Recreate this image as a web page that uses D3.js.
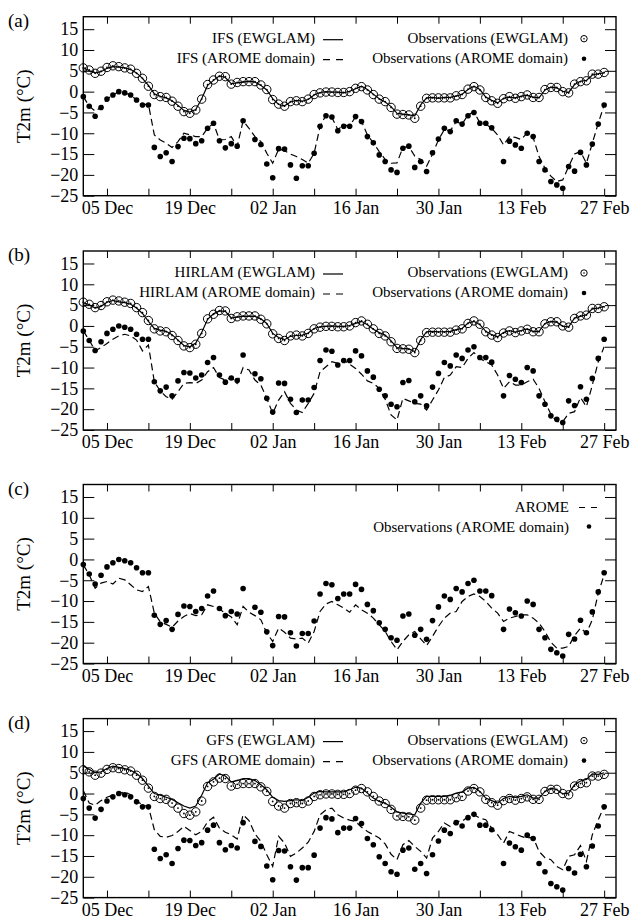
<!DOCTYPE html>
<html><head><meta charset="utf-8">
<script src="https://cdn.jsdelivr.net/npm/d3@7"></script>
<style>
body{margin:0;background:#fff}
text{font-family:"Liberation Serif","Times New Roman",serif;fill:#000}
</style>
</head><body>
<svg id="chart" width="632" height="920"></svg>
<script>
// ---------- DATA (daily values, 1 Dec 2010 .. 27 Feb 2011) ----------
const startDate = new Date(2010, 11, 1);
const endDate = new Date(2011, 2, 1);
const yTicks = [-25, -20, -15, -10, -5, 0, 5, 10, 15];
const xTickDates = ["2010-12-05","2010-12-12","2010-12-19","2010-12-26","2011-01-02","2011-01-09","2011-01-16","2011-01-23","2011-01-30","2011-02-06","2011-02-13","2011-02-20","2011-02-27"];
const xTickLabels = ["05 Dec","19 Dec","02 Jan","16 Jan","30 Jan","13 Feb","27 Feb"];
const panelLabels = ["(a)","(b)","(c)","(d)"];

const obsEWGLAM = [5.7,5.2,4.4,4.9,5.8,6.2,6.0,5.7,5.4,4.4, 3.2,1.3,-0.7,-1.2,-1.4,-2.3,-3.5,-4.8,-5.2,-4.4,
  -1.8,1.7,2.8,3.7,3.6,1.8,2.2,2.4,2.4,2.4, 1.6,0.5,-1.9,-3.0,-3.5,-2.4,-2.2,-2.4,-1.8,-0.7,
  -0.3,-0.1,-0.1,-0.2,-0.2,0.0,0.8,1.2,0.4,-0.7, -1.8,-2.4,-3.8,-5.4,-5.5,-5.6,-6.4,-3.5,-1.6,-1.5,
  -1.5,-1.5,-1.5,-1.0,-0.7,0.6,1.2,0.4,-1.4,-2.2, -2.8,-1.7,-1.2,-1.6,-1.2,-0.8,-1.4,-1.4,0.5,1.0,
  1.0,0.0,-0.3,1.8,2.4,2.6,4.2,4.2,4.6];
const obsAROME = [-1.2,-3.5,-5.9,-3.8,-1.8,-0.8,0.0,-0.3,-0.8,-2.0, -3.2,-3.2,-13.4,-15.6,-14.7,-16.8,-13.2,-11.2,-11.3,-12.5,
  -11.8,-8.8,-7.6,-11.8,-13.5,-12.5,-13.1,-7.0,null,-11.5, -12.7,-17.4,-20.7,-13.7,-13.8,-17.6,-20.8,-17.8,-17.8,-14.8,
  -8.3,-5.8,-6.1,-9.4,-8.3,-8.3,-6.0,-7.2,-10.8,-12.3, -15.2,-16.8,-18.8,-19.4,-13.6,-13.1,-18.2,-16.8,-19.2,-14.7,
  -11.4,-8.8,-9.6,-7.0,-7.8,-5.8,-5.0,-7.6,-7.6,-8.7, null,-16.8,-11.9,-12.8,-13.6,-10.0,-10.8,-16.8,-18.8,-21.6,
  -22.4,-23.2,-18.0,-19.1,-14.6,-17.6,-12.6,-7.8,-3.2];

const ifsEWGLAM = [5.8,5.0,4.5,4.8,5.6,6.0,5.9,5.7,5.3,4.5, 3.2,1.5,-0.5,-1.1,-1.5,-2.2,-3.3,-4.5,-4.9,-4.3,
  -1.7,1.5,2.7,3.8,3.4,1.9,2.1,2.3,2.5,2.3, 1.5,0.4,-1.7,-3.1,-3.4,-2.5,-2.1,-2.3,-1.9,-0.8,
  -0.2,0.0,-0.1,-0.1,-0.3,0.1,0.7,1.3,0.5,-0.6, -1.7,-2.5,-3.6,-5.2,-5.4,-5.6,-5.8,-3.2,-1.5,-1.4,
  -1.6,-1.4,-1.4,-1.1,-0.6,0.5,1.3,0.5,-1.3,-2.1, -2.7,-1.6,-1.3,-1.5,-1.1,-0.9,-1.3,-1.5,0.4,1.1,
  0.9,0.1,-0.2,1.7,2.5,2.7,4.0,4.3,4.5];
const ifsAROME = [-1.2,-3.5,-4.7,-3.8,-1.8,-0.8,0.0,-0.3,-0.8,-2.0, -3.2,-3.0,-10.4,-11.6,-12.4,-13.4,-12.0,-10.0,-10.4,-10.8,
  -10.8,-8.8,-7.6,-11.6,-11.5,-10.8,-13.2,-7.0,-8.8,-10.8, -12.0,-14.8,-17.2,-13.8,-14.2,-15.0,-15.6,-16.3,-17.2,-14.8,
  -8.4,-5.6,-6.2,-9.1,-8.0,-8.3,-6.0,-7.1,-10.4,-12.3, -14.4,-16.3,-17.2,-17.1,-13.4,-13.2,-15.5,-16.3,-17.9,-15.0,
  -11.6,-9.1,-9.4,-7.2,-7.8,-5.6,-4.8,-7.5,-7.8,-8.8, -10.4,-12.8,-10.8,-11.0,-11.5,-9.9,-11.0,-15.6,-18.4,-20.3,
  -21.6,-21.2,-18.0,-15.0,-14.4,-17.2,-12.4,-7.6,-3.2];

const hirlamEWGLAM = [5.6,5.1,4.3,4.7,5.7,6.1,5.8,5.6,5.2,4.3, 3.0,1.1,-0.6,-1.0,-1.3,-2.1,-3.4,-4.7,-5.0,-4.1,
  -1.6,1.6,2.9,3.6,3.5,1.9,2.1,2.3,2.3,2.3, 1.7,0.6,-1.8,-2.8,-3.3,-2.5,-2.3,-2.2,-1.7,-0.6,
  -0.2,-0.1,0.0,-0.1,-0.1,0.1,0.6,1.1,0.3,-0.8, -1.6,-2.2,-3.6,-5.2,-5.4,-5.5,-6.2,-3.3,-1.4,-1.3,
  -1.4,-1.4,-1.3,-0.9,-0.6,0.7,1.1,0.3,-1.3,-2.1, -2.6,-1.6,-1.1,-1.5,-1.1,-0.7,-1.3,-1.3,0.6,1.1,
  0.9,-0.1,-0.2,1.9,2.3,2.7,4.1,4.3,4.7];
const hirlamAROME = [-1.2,-3.4,-6.0,-5.2,-4.2,-3.2,-2.4,-2.0,-2.4,-3.4, -6.0,-4.6,-13.4,-15.6,-17.0,-17.6,-15.8,-13.8,-13.6,-13.8,
  -13.0,-11.0,-10.0,-12.4,-13.0,-12.4,-13.8,-10.0,-10.6,-13.0, -14.2,-17.4,-21.0,-17.8,-15.8,-18.6,-20.2,-20.8,-18.6,-16.2,
  -11.0,-9.8,-8.6,-9.0,-8.2,-9.2,-10.2,-11.6,-13.2,-13.8, -15.0,-17.6,-21.4,-22.6,-17.4,-18.0,-18.6,-18.8,-20.2,-17.8,
  -15.4,-12.4,-11.8,-9.8,-10.0,-7.8,-6.4,-7.8,-8.6,-9.4, -11.8,-15.0,-13.4,-14.2,-14.2,-13.4,-12.8,-15.0,-18.2,-21.2,
  -23.0,-23.0,-21.0,-20.6,-17.2,-19.4,-14.2,-8.6,-5.0];

const aromeModel = [-1.3,-3.7,-6.9,-5.7,-5.3,-5.9,-4.5,-4.9,-6.1,-7.3, -7.7,-6.5,-12.9,-15.0,-15.6,-16.3,-14.8,-13.7,-13.0,-13.5,
  -13.3,-10.9,-11.3,-11.9,-12.9,-13.8,-15.7,-11.3,-12.7,-13.5, -14.5,-17.7,-19.7,-16.5,-17.5,-18.9,-19.1,-18.9,-20.1,-17.3,
  -12.5,-10.7,-10.1,-10.9,-11.7,-12.7,-10.9,-12.1,-12.9,-14.1, -15.7,-17.3,-19.7,-21.7,-19.7,-18.1,-17.3,-19.1,-20.7,-18.5,
  -16.1,-14.1,-12.9,-12.5,-10.1,-8.9,-8.3,-8.9,-10.1,-11.7, -12.9,-14.9,-14.1,-13.7,-13.3,-13.3,-14.1,-15.3,-17.3,-19.9,
  -21.3,-21.3,-20.9,-18.3,-16.5,-17.7,-14.5,-8.1,-3.7];

const gfsEWGLAM = [6.6,5.8,5.0,5.2,6.0,6.6,6.3,6.0,5.6,4.8, 3.6,1.8,0.0,-0.4,-0.9,-1.4,-2.2,-3.0,-3.5,-3.0,
  -0.4,2.6,3.4,4.7,4.2,2.8,3.1,3.6,3.6,3.1, 2.1,0.9,-0.9,-1.7,-1.9,-1.7,-1.5,-1.7,-0.9,0.1,
  0.5,0.4,0.4,0.4,0.4,0.9,1.5,1.3,0.1,-1.1, -1.9,-2.3,-3.3,-4.4,-4.7,-4.9,-5.1,-2.3,-0.7,-0.7,
  -0.7,-0.7,-0.4,0.1,0.4,1.3,1.5,0.5,-1.1,-1.7, -2.3,-1.2,-0.7,-0.9,-0.7,-0.3,-1.1,-1.1,0.5,1.3,
  0.9,-0.1,0.1,2.1,3.0,3.4,4.7,4.6,5.0];
const gfsAROME = [0.7,-2.3,-2.8,-1.7,-0.9,-0.4,0.0,0.4,-0.3,-1.7, -2.8,-3.1,-8.7,-10.3,-10.5,-10.1,-9.1,-7.9,-8.9,-9.9,
  -9.1,-6.8,-5.7,-8.3,-9.3,-9.9,-10.9,-5.1,-6.5,-9.7, -11.5,-14.7,-17.5,-10.3,-11.9,-15.1,-14.3,-13.1,-11.7,-9.1,
  -5.1,-3.9,-3.5,-5.1,-5.9,-6.4,-6.7,-8.1,-9.1,-9.9, -10.7,-12.1,-14.6,-15.9,-12.3,-11.3,-12.7,-13.9,-15.5,-10.7,
  -9.1,-7.1,-7.9,-6.7,-6.7,-5.5,-5.1,-5.9,-6.3,-8.3, -9.9,-11.9,-9.1,-9.7,-10.3,-10.7,-10.5,-13.9,-15.4,-15.9,
  -17.5,-18.3,-15.1,-14.7,-12.5,-16.3,-9.9,-6.3,-3.1];

// ---------- PANELS ----------
const panels = [
  {label: panelLabels[0], ew: ifsEWGLAM, ar: ifsAROME, ewName: "IFS (EWGLAM)", arName: "IFS (AROME domain)"},
  {label: panelLabels[1], ew: hirlamEWGLAM, ar: hirlamAROME, ewName: "HIRLAM (EWGLAM)", arName: "HIRLAM (AROME domain)"},
  {label: panelLabels[2], ew: null, ar: aromeModel, ewName: null, arName: "AROME"},
  {label: panelLabels[3], ew: gfsEWGLAM, ar: gfsAROME, ewName: "GFS (EWGLAM)", arName: "GFS (AROME domain)"}
];
const panelTops = [16.7, 251, 484.5, 718.6];
const panelH = 179;
const left = 83.3, right = 616;

const svg = d3.select("#chart");
const dates = obsEWGLAM.map((_, i) => d3.timeDay.offset(startDate, i));
const x = d3.scaleTime().domain([startDate, endDate]).range([left, right]);
const parse = d3.timeParse("%Y-%m-%d");
const tickDates = xTickDates.map(parse);
const fmt = d3.timeFormat("%d %b");

panels.forEach((p, pi) => {
  const top = panelTops[pi];
  const bottom = top + panelH;
  const y = d3.scaleLinear().domain([-25, 18]).range([bottom, top]);
  const g = svg.append("g");

  // axes (inward ticks)
  const xb = g.append("g").attr("transform", `translate(0,${bottom})`)
    .call(d3.axisBottom(x).tickValues(tickDates).tickSizeInner(-7).tickSizeOuter(0).tickPadding(5.5)
      .tickFormat(d => xTickLabels.includes(fmt(d)) ? fmt(d) : ""));
  const xt = g.append("g").attr("transform", `translate(0,${top})`)
    .call(d3.axisTop(x).tickValues(tickDates).tickSizeInner(-7).tickSizeOuter(0).tickFormat(""));
  const yl = g.append("g").attr("transform", `translate(${left},0)`)
    .call(d3.axisLeft(y).tickValues(yTicks).tickSizeInner(-11).tickSizeOuter(0).tickPadding(5));
  const yr = g.append("g").attr("transform", `translate(${right},0)`)
    .call(d3.axisRight(y).tickValues(yTicks).tickSizeInner(-11).tickSizeOuter(0).tickFormat(""));
  [xb, xt, yl, yr].forEach(a => {
    a.select(".domain").remove();
    a.selectAll("line").attr("stroke", "#000").attr("stroke-width", 1);
    a.selectAll("text").style("font-family", '"Liberation Serif","Times New Roman",serif')
      .style("font-size", "18px").attr("fill", "#000");
  });

  // frame
  g.append("rect").attr("x", left).attr("y", top).attr("width", right - left).attr("height", panelH)
    .attr("fill", "none").attr("stroke", "#000").attr("stroke-width", 1.4);

  // panel label and y title
  g.append("text").attr("x", 8).attr("y", top + 10).style("font-size", "19px").text(p.label);
  g.append("text").attr("transform", `translate(30,${top + panelH / 2}) rotate(-90)`)
    .attr("text-anchor", "middle").style("font-size", "19px").text("T2m (°C)");

  const line = arr => d3.line().defined(d => d != null)
    .x((d, i) => x(dates[i])).y(d => y(d))(arr);

  // model lines
  if (p.ew) g.append("path").attr("d", line(p.ew)).attr("fill", "none")
    .attr("stroke", "#000").attr("stroke-width", 1.2);
  g.append("path").attr("d", line(p.ar)).attr("fill", "none")
    .attr("stroke", "#000").attr("stroke-width", 1.2).attr("stroke-dasharray", "7,4");

  // observations
  if (p.ew) {
    const ptsE = obsEWGLAM.map((v, i) => ({d: dates[i], v})).filter(o => o.v != null);
    g.selectAll(null).data(ptsE).enter().append("circle")
      .attr("cx", o => x(o.d)).attr("cy", o => y(o.v)).attr("r", 4.2)
      .attr("fill", "none").attr("stroke", "#000").attr("stroke-width", 1);
    g.selectAll(null).data(ptsE).enter().append("circle")
      .attr("cx", o => x(o.d)).attr("cy", o => y(o.v)).attr("r", 0.9).attr("fill", "#000");
  }
  const ptsA = obsAROME.map((v, i) => ({d: dates[i], v})).filter(o => o.v != null);
  g.selectAll(null).data(ptsA).enter().append("circle")
    .attr("cx", o => x(o.d)).attr("cy", o => y(o.v)).attr("r", 2.8).attr("fill", "#000");

  // legend
  const lg = g.append("g").style("font-size", "15px");
  if (p.ew) {
    lg.append("text").attr("x", 315).attr("y", top + 26).attr("text-anchor", "end").text(p.ewName);
    lg.append("line").attr("x1", 323).attr("x2", 343).attr("y1", top + 23).attr("y2", top + 23)
      .attr("stroke", "#000").attr("stroke-width", 1.2);
    lg.append("text").attr("x", 315).attr("y", top + 46).attr("text-anchor", "end").text(p.arName);
    lg.append("line").attr("x1", 323).attr("x2", 343).attr("y1", top + 43).attr("y2", top + 43)
      .attr("stroke", "#000").attr("stroke-width", 1.2).attr("stroke-dasharray", "7,6");
    lg.append("text").attr("x", 568).attr("y", top + 26).attr("text-anchor", "end").text("Observations (EWGLAM)");
    lg.append("circle").attr("cx", 584).attr("cy", top + 22).attr("r", 3.2)
      .attr("fill", "none").attr("stroke", "#000").attr("stroke-width", 1);
    lg.append("circle").attr("cx", 584).attr("cy", top + 22).attr("r", 0.8).attr("fill", "#000");
    lg.append("text").attr("x", 568).attr("y", top + 46).attr("text-anchor", "end").text("Observations (AROME domain)");
    lg.append("circle").attr("cx", 584).attr("cy", top + 42).attr("r", 2.3).attr("fill", "#000");
  } else {
    lg.append("text").attr("x", 569).attr("y", top + 27).attr("text-anchor", "end").text(p.arName);
    lg.append("line").attr("x1", 579).attr("x2", 598).attr("y1", top + 23).attr("y2", top + 23)
      .attr("stroke", "#000").attr("stroke-width", 1.2).attr("stroke-dasharray", "6,6");
    lg.append("text").attr("x", 569).attr("y", top + 47).attr("text-anchor", "end").text("Observations (AROME domain)");
    lg.append("circle").attr("cx", 589).attr("cy", top + 42).attr("r", 2.3).attr("fill", "#000");
  }
});
</script>
</body></html>
